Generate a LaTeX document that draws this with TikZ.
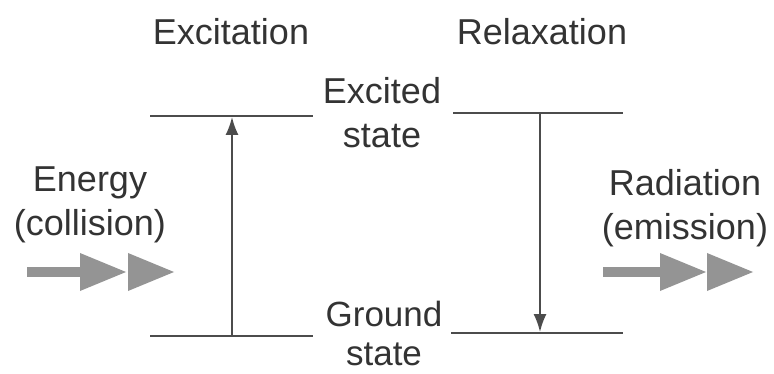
\documentclass[tikz,border=0pt]{standalone}
\usepackage{fontspec}
\setmainfont{Liberation Sans}
\usetikzlibrary{arrows.meta}
\begin{document}
\begin{tikzpicture}[x=1pt,y=-1pt,
  lbl/.style={inner sep=0pt, font=\fontsize{36}{44}\selectfont, text=black!80, align=center, anchor=north},
  level/.style={draw=black!70, line width=1.8pt},
  trans/.style={draw=black!70, line width=1.8pt, -{Latex[length=18pt,width=13pt]}},
  gshaft/.style={draw=black!42, line width=10pt},
  ghead/.style={fill=black!42, draw=none}]
\useasboundingbox (0,0) rectangle (774,374);
% levels
\coordinate (le1) at (150,116); \coordinate (le2) at (313,116);
\coordinate (lg1) at (150,336); \coordinate (lg2) at (313,336);
\coordinate (re1) at (453,113); \coordinate (re2) at (623,113);
\coordinate (rg1) at (451,333); \coordinate (rg2) at (623,333);
\draw[level] (le1) -- (le2);
\draw[level] (lg1) -- (lg2);
\draw[level] (re1) -- (re2);
\draw[level] (rg1) -- (rg2);
\coordinate (a1) at (232,336); \coordinate (a2) at (232,117);
\coordinate (b1) at (540,113); \coordinate (b2) at (540,332);
\draw[trans] (a1) -- (a2);
\draw[trans] (b1) -- (b2);
% labels
\node[lbl] (exc) at (231,18) {Excitation};
\node[lbl] (rel) at (542,18) {Relaxation};
\node[lbl] (es) at (382,77) {Excited\\state};
\node[lbl, font=\fontsize{35}{39}\selectfont] (gs) at (384,301) {Ground\\state};
\node[lbl] (en) at (90,167) {Energy\\(collision)};
\node[lbl] (ra) at (685,169) {Radiation\\(emission)};
% grey arrows
\coordinate (ls) at (27,272); \coordinate (le) at (85,272);
\draw[gshaft] (ls) -- (le);
\fill[ghead] (80,253) -- (126,272) -- (80,291) -- cycle;
\fill[ghead] (128,253) -- (174,272) -- (128,291) -- cycle;
\coordinate (rs) at (603,272); \coordinate (rend) at (663,272);
\draw[gshaft] (rs) -- (rend);
\fill[ghead] (660,253) -- (706,272) -- (660,291) -- cycle;
\fill[ghead] (707,253) -- (753,272) -- (707,291) -- cycle;
\end{tikzpicture}
\end{document}
